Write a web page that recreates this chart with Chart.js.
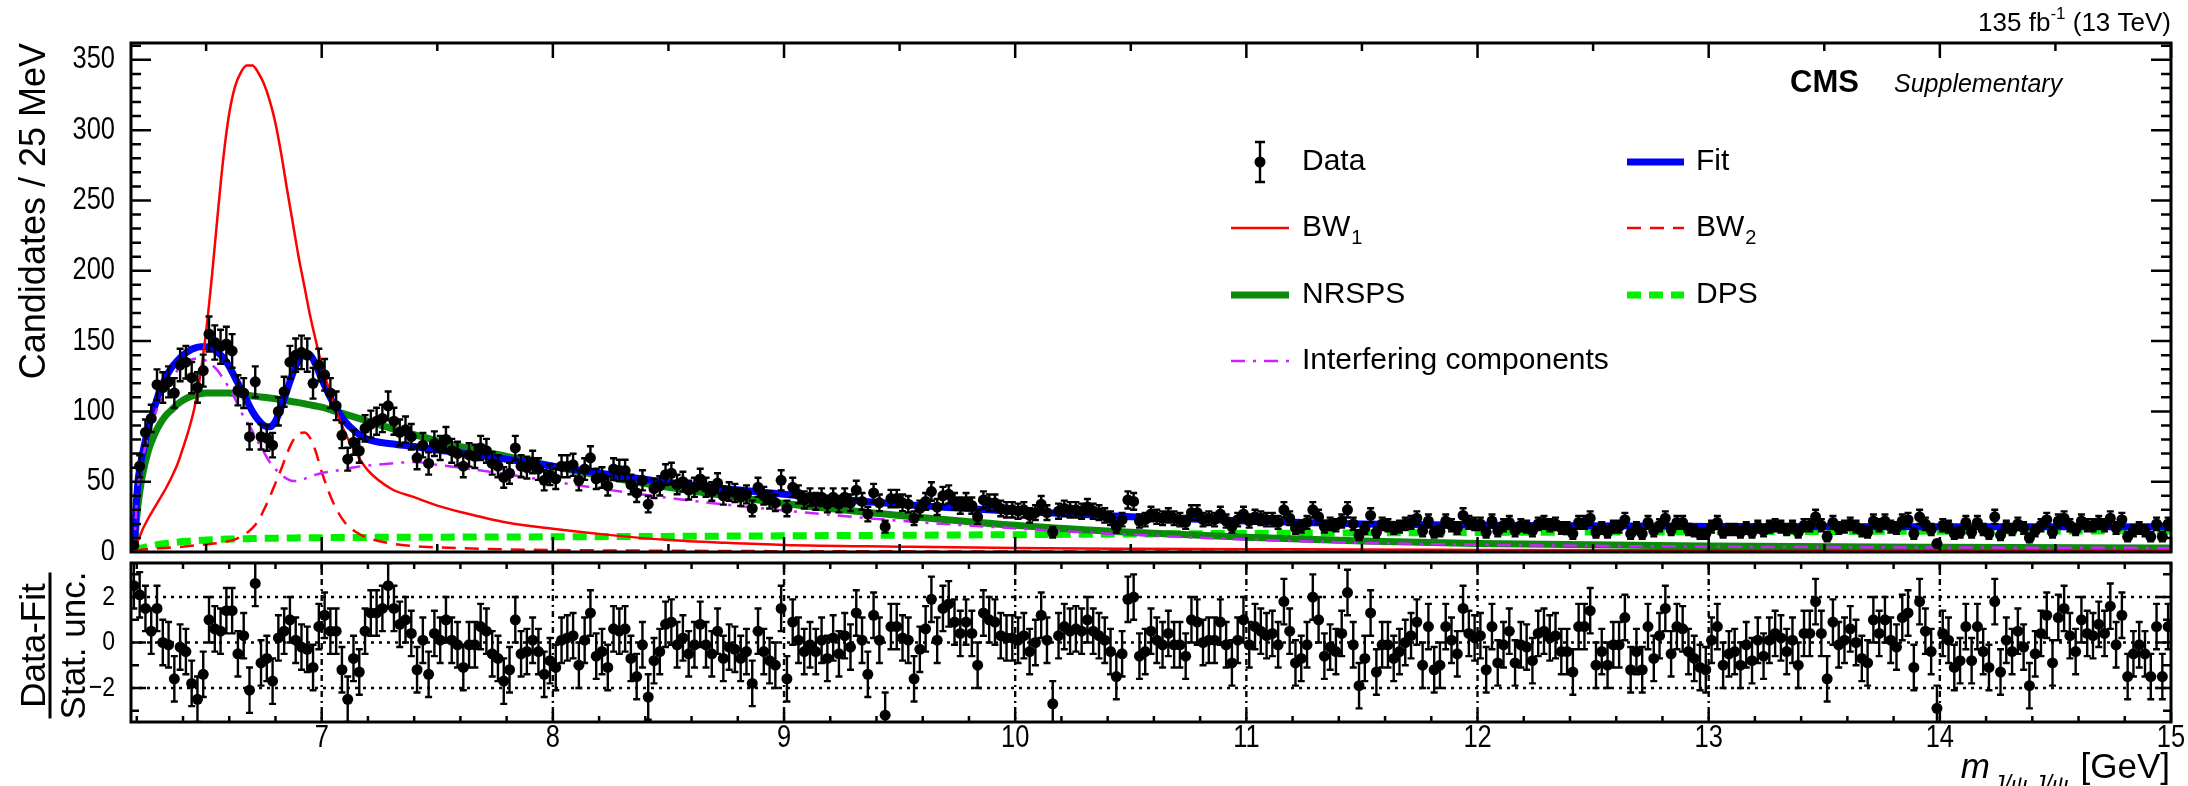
<!DOCTYPE html>
<html>
<head>
<meta charset="utf-8">
<script src="https://cdn.jsdelivr.net/npm/chart.js@4.4.1/dist/chart.umd.min.js"></script>
<style>
  html, body { margin: 0; padding: 0; background: #fff; }
  #wrap { position: relative; width: 2188px; height: 786px; overflow: hidden; }
  canvas { position: absolute; left: 0; }
  #mainPlot { top: 0; }
  #pullPlot { top: 555px; }
</style>
</head>
<body>
<div id="wrap">
  <canvas id="mainPlot" width="2188" height="560"></canvas>
  <canvas id="pullPlot" width="2188" height="231"></canvas>
</div>
<script>
// 25 MeV bins, first bin starts at 6.175 GeV
var binStart = 6.175;
var binWidth = 0.025;

// candidates per bin
var counts = [
  5, 61, 85, 95, 119, 117, 121, 113, 133, 135,
  124, 117, 129, 155, 149, 146, 148, 143, 115, 113,
  82, 121, 82, 81, 76, 100, 114, 135, 140, 142,
  140, 120, 133, 126, 113, 104, 83, 66, 78, 72,
  88, 91, 93, 95, 104, 93, 85, 87, 82, 67,
  76, 63, 77, 74, 80, 72, 70, 61, 69, 68,
  74, 72, 63, 61, 53, 56, 74, 61, 60, 64,
  59, 51, 55, 52, 61, 61, 62, 51, 59, 67,
  52, 53, 47, 59, 58, 58, 48, 42, 51, 34,
  45, 47, 55, 56, 48, 50, 44, 46, 52, 46,
  43, 49, 40, 43, 42, 39, 41, 31, 46, 40,
  37, 35, 51, 31, 46, 41, 37, 39, 36, 39,
  34, 39, 34, 39, 35, 44, 36, 27, 42, 35,
  18, 38, 38, 35, 34, 24, 31, 36, 43, 32,
  40, 41, 36, 33, 36, 33, 25, 37, 35, 35,
  31, 30, 30, 29, 30, 26, 28, 34, 28, 14,
  29, 31, 30, 30, 29, 32, 29, 28, 26, 24,
  18, 23, 37, 36, 22, 23, 27, 25, 24, 26,
  24, 23, 21, 28, 28, 23, 24, 23, 27, 22,
  18, 23, 27, 22, 25, 24, 23, 23, 21, 30,
  24, 17, 18, 21, 30, 25, 18, 20, 19, 22,
  30, 20, 12, 17, 26, 14, 20, 19, 17, 18,
  20, 21, 24, 15, 22, 14, 15, 22, 19, 17,
  26, 21, 20, 20, 14, 22, 15, 19, 21, 15,
  19, 18, 15, 20, 21, 19, 20, 17, 17, 13,
  21, 21, 24, 14, 17, 14, 18, 18, 23, 13,
  17, 13, 21, 15, 19, 24, 16, 21, 21, 16,
  15, 13, 13, 18, 21, 14, 16, 16, 14, 17,
  14, 18, 15, 18, 19, 18, 16, 18, 14, 19,
  19, 25, 19, 11, 21, 17, 18, 20, 18, 15,
  14, 22, 19, 22, 18, 17, 22, 23, 13, 25,
  20, 16, 6, 19, 18, 13, 14, 21, 14, 21,
  16, 13, 25, 12, 18, 16, 20, 17, 10, 15,
  19, 23, 14, 22, 24, 19, 16, 22, 19, 19,
  21, 19, 24, 17, 23, 11, 15, 17, 15, 11,
  20, 11, 20
];

// (data - fit) / stat. unc. per bin
var pulls = [
  2.5, 2.1, 1.5, 0.5, 1.5, 0, -0.1, -1.6, -0.2, -0.4,
  -1.8, -2.5, -1.4, 1.0, 0.6, 0.5, 1.4, 1.4, -0.5, 0.3,
  -2.1, 2.6, -0.9, -0.7, -1.7, 0.2, 0.5, 1.0, 0.1, -0.2,
  -0.3, -1.1, 0.7, 1.2, 0.5, 0.5, -1.2, -2.5, -0.7, -1.3,
  0.5, 1.3, 1.3, 1.5, 2.5, 1.5, 0.8, 1.0, 0.4, -1.2,
  0.1, -1.4, 0.4, 0.1, 1.0, 0.1, -0.1, -1.1, -0.1, -0.1,
  0.7, 0.5, -0.5, -0.7, -1.7, -1.2, 1.0, -0.5, -0.4, 0.1,
  -0.4, -1.4, -0.8, -1.1, 0.1, 0.2, 0.3, -1.0, 0.1, 1.3,
  -0.6, -0.4, -1.1, 0.6, 0.5, 0.6, -0.7, -1.5, -0.1, -2.4,
  -0.8, -0.4, 0.8, 0.9, -0.1, 0.2, -0.5, -0.1, 0.8, -0.1,
  -0.5, 0.5, -0.7, -0.2, -0.3, -0.7, -0.4, -1.8, 0.5, -0.4,
  -0.8, -1.0, 1.5, -1.6, 0.9, 0.1, -0.4, -0.1, -0.4, 0.1,
  -0.7, 0.2, -0.5, 0.3, -0.2, 1.3, 0.1, -1.4, 1.2, 0.1,
  -3.2, 0.7, 0.7, 0.2, 0.1, -1.6, -0.3, 0.6, 1.9, 0.1,
  1.5, 1.7, 0.9, 0.4, 0.9, 0.4, -1.0, 1.3, 1.0, 0.9,
  0.3, 0.2, 0.2, 0.1, 0.3, -0.4, 0.0, 1.2, 0.1, -2.7,
  0.3, 0.7, 0.5, 0.6, 0.5, 1.0, 0.5, 0.3, 0.1, -0.4,
  -1.5, -0.5, 1.9, 2.0, -0.6, -0.4, 0.5, 0.1, -0.1, 0.4,
  -0.1, -0.1, -0.6, 1.0, 0.9, 0.0, 0.1, 0.1, 0.9, -0.1,
  -0.9, 0.1, 1.0, -0.1, 0.7, 0.5, 0.3, 0.4, -0.1, 1.8,
  0.5, -0.9, -0.7, -0.1, 2.0, 1.0, -0.6, -0.2, -0.4, 0.4,
  2.2, -0.1, -1.9, -0.7, 1.3, -1.3, -0.1, -0.1, -0.7, -0.4,
  0.0, 0.3, 0.9, -1.0, 0.7, -1.2, -1.0, 0.7, 0.1, -0.5,
  1.5, 0.4, 0.2, 0.3, -1.2, 0.7, -0.9, -0.1, 0.5, -0.9,
  -0.1, -0.2, -0.8, 0.4, 0.5, 0.2, 0.3, -0.4, -0.4, -1.3,
  0.7, 0.7, 1.4, -1.0, -0.4, -1.0, -0.1, -0.1, 1.1, -1.2,
  -0.4, -1.2, 0.7, -0.7, 0.3, 1.5, -0.5, 0.7, 0.6, -0.4,
  -0.7, -1.1, -1.2, 0.1, 0.7, -1.0, -0.5, -0.4, -1.0, -0.1,
  -0.8, 0.1, -0.6, 0.1, 0.4, 0.2, -0.4, 0.1, -1.0, 0.4,
  0.4, 1.8, 0.4, -1.6, 0.9, -0.1, 0.1, 0.6, 0.0, -0.7,
  -0.9, 1.0, 0.4, 1.0, 0.1, -0.2, 1.1, 1.3, -1.1, 1.8,
  0.5, -0.4, -2.9, 0.4, 0.1, -1.1, -0.8, 0.7, -0.8, 0.7,
  -0.4, -1.1, 1.8, -1.3, 0.1, -0.4, 0.5, -0.2, -1.9, -0.5,
  0.4, 1.2, -0.9, 1.1, 1.5, 0.3, -0.4, 1.0, 0.4, 0.3,
  0.8, 0.4, 1.6, -0.1, 1.2, -1.5, -0.5, -0.1, -0.5, -1.5,
  0.7, -1.5, 0.7
];

// masses (GeV) where the fit curves were read
var curveMass = [
  6.19, 6.195, 6.205, 6.215, 6.225,
  6.25, 6.275, 6.3, 6.325, 6.35, 6.375, 6.4, 6.425, 6.45, 6.475,
  6.5, 6.525, 6.55, 6.575, 6.6, 6.625, 6.65, 6.675, 6.7, 6.725,
  6.75, 6.775, 6.8, 6.825, 6.85, 6.875, 6.9, 6.925, 6.95, 6.975,
  7.0, 7.05, 7.1, 7.15, 7.2,
  7.3, 7.4, 7.5, 7.6, 7.8, 8.0,
  8.25, 8.5, 8.75, 9.0,
  9.5, 10.0, 10.5, 11.0, 11.5, 12.0,
  13.0, 14.0, 15.0
];
var fitCurve = [
  0, 25, 50, 61, 70,
  88, 102, 115, 124, 131, 136, 140, 143, 145, 146,
  146, 145, 142, 138, 132, 124, 116, 108, 100, 94,
  90, 89, 93, 103, 115, 127, 136, 141, 140, 133,
  123, 106, 93, 85, 80,
  77, 75, 72.5, 70.5, 66, 61,
  55, 49.5, 45, 41,
  34, 29, 25, 22, 20, 19,
  18.2, 18, 18
];
var bw1Curve = [
  0, 3, 8, 12, 16,
  24, 31, 38, 45, 53, 62, 74, 87, 103, 126,
  157, 196, 240, 281, 312, 331, 341, 346, 346, 341,
  333, 321, 305, 283, 258, 234, 210, 189, 168, 150,
  133, 107, 85, 70, 58,
  45, 39, 33, 28.5, 21, 16.5,
  12, 8.5, 6.5, 5,
  3.8, 2.8, 2.3, 2, 1.7, 1.5,
  1.2, 1.0, 0.8
];
var bw2Curve = [
  0, 0.5, 1, 1.4, 1.7,
  2, 2.3, 2.6, 2.9, 3.2, 3.5, 3.8, 4.2, 4.6, 5,
  5.4, 5.8, 6.3, 6.9, 7.8, 9, 11, 13.5, 17, 22,
  30, 39, 49, 59, 70, 79, 84, 85, 81, 71,
  57, 35, 21, 14, 10,
  6, 4.2, 3.3, 2.7, 1.9, 1.4,
  1.1, 0.9, 0.7, 0.6,
  0.45, 0.35, 0.3, 0.25, 0.2, 0.2,
  0.15, 0.1, 0.1
];
var nrspsCurve = [
  0, 15, 33, 45, 55,
  72, 83, 91, 97, 101, 105, 108, 110, 111.5, 112.5,
  113, 113, 113, 113, 113, 112.5, 112, 111.5, 111, 110.5,
  110, 109.5, 109, 108.3, 107.6, 106.9, 106.2, 105.4, 104.6, 103.8,
  103, 100.5, 98, 95.5, 93,
  88, 83.5, 79, 75, 68, 61,
  53, 46, 40, 34.5,
  26, 19, 14, 10.5, 7.8, 6,
  4.2, 3.3, 2.8
];
var dpsCurve = [
  0, 0.8, 1.6, 2.3, 3,
  4, 4.8, 5.5, 6, 6.5, 7, 7.4, 7.7, 8, 8.3,
  8.5, 8.7, 8.9, 9.1, 9.2, 9.3, 9.4, 9.5, 9.6, 9.7,
  9.75, 9.8, 9.85, 9.9, 9.95, 10, 10.05, 10.1, 10.15, 10.2,
  10.2, 10.25, 10.3, 10.35, 10.4,
  10.45, 10.5, 10.55, 10.6, 10.7, 10.8,
  10.95, 11.1, 11.3, 11.5,
  11.9, 12.3, 12.8, 13.2, 13.6, 13.9,
  14.4, 14.8, 15.1
];
var interfCurve = [
  0, 22, 45, 57, 66,
  83, 96, 107, 116, 123, 129, 133, 136, 137.5, 137.5,
  136, 133, 129, 123, 116.5, 109, 100, 93, 86, 78,
  71, 64, 59, 55, 52, 50.5, 50.5, 52, 53.5, 55,
  56, 57.5, 59, 60.5, 61.5,
  63, 64, 62, 60, 55.3, 50.2,
  44, 38.5, 33.7, 29.5,
  22.2, 16.8, 12.3, 8.9, 6.5, 5.2,
  3.8, 3.2, 2.9
];

var yTicks = [0, 50, 100, 150, 200, 250, 300, 350];
var xTicks = [7, 8, 9, 10, 11, 12, 13, 14, 15];
var pullTicks = [-2, 0, 2];

var FONT = '"Liberation Sans", Arial, Helvetica, sans-serif';
var BLUE = '#0000ff', RED = '#ff0000', DKGREEN = '#0b8a0b', LTGREEN = '#00f000', VIOLET = '#cc22ff';

Chart.defaults.font.family = FONT;
Chart.defaults.animation = false;

function binCenter(i) { return binStart + binWidth * (i + 0.5); }
function asCurve(values) {
  return curveMass.map(function (m, i) { return { x: m, y: values[i] }; });
}
function curveSet(values, color, width, dash, order) {
  return {
    type: 'line', data: asCurve(values), borderColor: color, borderWidth: width,
    borderDash: dash, pointRadius: 0, fill: false, cubicInterpolationMode: 'monotone', order: order
  };
}

// tick numbers look narrow in the original, so squeeze them a little
function narrowText(ctx, text, x, y, size, align) {
  ctx.save();
  ctx.translate(x, y);
  ctx.scale(0.82, 1);
  ctx.font = size + 'px ' + FONT;
  ctx.textAlign = align;
  ctx.textBaseline = 'middle';
  ctx.fillText(text, 0, 0);
  ctx.restore();
}

function makeErrorBars(id, errFn) {
  return {
    id: id,
    afterDatasetsDraw: function (chart) {
      var ctx = chart.ctx, a = chart.chartArea, ys = chart.scales.y;
      var ds = chart.data.datasets[0], meta = chart.getDatasetMeta(0);
      ctx.save();
      ctx.beginPath();
      ctx.rect(a.left, a.top, a.right - a.left, a.bottom - a.top);
      ctx.clip();
      ctx.strokeStyle = '#000';
      ctx.lineWidth = 2.4;
      ctx.beginPath();
      meta.data.forEach(function (pt, i) {
        var v = ds.data[i].y, e = errFn(v);
        var hi = ys.getPixelForValue(v + e), lo = ys.getPixelForValue(v - e);
        ctx.moveTo(pt.x, hi); ctx.lineTo(pt.x, lo);
        ctx.moveTo(pt.x - 3.5, hi); ctx.lineTo(pt.x + 3.5, hi);
        ctx.moveTo(pt.x - 3.5, lo); ctx.lineTo(pt.x + 3.5, lo);
      });
      ctx.stroke();
      ctx.restore();
    }
  };
}

function legendLine(ctx, x1, x2, y, color, width, dash) {
  ctx.save();
  ctx.strokeStyle = color; ctx.lineWidth = width; ctx.setLineDash(dash || []);
  ctx.beginPath(); ctx.moveTo(x1, y); ctx.lineTo(x2, y); ctx.stroke();
  ctx.restore();
}
function textWithSub(ctx, x, y, main, sub) {
  ctx.font = '30px ' + FONT;
  ctx.fillText(main, x, y);
  var w = ctx.measureText(main).width;
  ctx.font = '20px ' + FONT;
  ctx.fillText(sub, x + w + 1, y + 10);
}

var mainDecor = {
  id: 'mainDecor',
  afterDraw: function (chart) {
    var ctx = chart.ctx, a = chart.chartArea, xs = chart.scales.x, ys = chart.scales.y;
    ctx.save();
    ctx.strokeStyle = '#000'; ctx.fillStyle = '#000';

    // inner ticks
    ctx.lineWidth = 2.5;
    ctx.beginPath();
    for (var v = 10; v < ys.max; v += 10) {
      var py = ys.getPixelForValue(v), len = v % 50 === 0 ? 20 : 10;
      ctx.moveTo(a.left, py); ctx.lineTo(a.left + len, py);
      ctx.moveTo(a.right, py); ctx.lineTo(a.right - len, py);
    }
    for (var k = 13; k <= 30; k++) {
      var px = xs.getPixelForValue(k / 2), l2 = k % 2 === 0 ? 15 : 8;
      ctx.moveTo(px, a.bottom); ctx.lineTo(px, a.bottom - l2);
      ctx.moveTo(px, a.top); ctx.lineTo(px, a.top + l2);
    }
    ctx.stroke();
    ctx.lineWidth = 3;
    ctx.strokeRect(a.left, a.top, a.right - a.left, a.bottom - a.top);

    // y tick labels
    yTicks.forEach(function (t) { narrowText(ctx, String(t), a.left - 16, ys.getPixelForValue(t), 31, 'right'); });

    // y title, flush with the top of the frame
    ctx.save();
    ctx.translate(45, a.top);
    ctx.rotate(-Math.PI / 2);
    ctx.font = '36px ' + FONT;
    ctx.textAlign = 'right'; ctx.textBaseline = 'alphabetic';
    ctx.fillText('Candidates / 25 MeV', 0, 0);
    ctx.restore();

    // luminosity label
    ctx.textBaseline = 'alphabetic'; ctx.textAlign = 'left';
    ctx.font = '26px ' + FONT;
    var p1 = '135 fb', p3 = ' (13 TeV)';
    var w1 = ctx.measureText(p1).width, w3 = ctx.measureText(p3).width;
    ctx.font = '17px ' + FONT;
    var w2 = ctx.measureText('-1').width;
    var x0 = a.right - w1 - w2 - w3;
    ctx.font = '26px ' + FONT;
    ctx.fillText(p1, x0, 31);
    ctx.fillText(p3, x0 + w1 + w2, 31);
    ctx.font = '17px ' + FONT;
    ctx.fillText('-1', x0 + w1, 19);

    // CMS label
    ctx.font = 'bold 31px ' + FONT;
    ctx.fillText('CMS', 1790, 92);
    ctx.font = 'italic 25px ' + FONT;
    ctx.fillText('Supplementary', 1894, 92);

    // legend
    ctx.textBaseline = 'middle';
    var r1 = 162, r2 = 228, r3 = 295, r4 = 361;
    var c1a = 1231, c1b = 1289, c1t = 1302, c2a = 1627, c2b = 1684, c2t = 1696;
    ctx.lineWidth = 2.4;
    ctx.beginPath();
    ctx.moveTo(1260, r1 - 20); ctx.lineTo(1260, r1 + 20);
    ctx.moveTo(1255, r1 - 20); ctx.lineTo(1265, r1 - 20);
    ctx.moveTo(1255, r1 + 20); ctx.lineTo(1265, r1 + 20);
    ctx.stroke();
    ctx.beginPath(); ctx.arc(1260, r1, 5.5, 0, Math.PI * 2); ctx.fill();
    legendLine(ctx, c2a, c2b, r1, BLUE, 7);
    legendLine(ctx, c1a, c1b, r2, RED, 2.5);
    legendLine(ctx, c2a, c2b, r2, RED, 2.5, [14, 9]);
    legendLine(ctx, c1a, c1b, r3, DKGREEN, 7);
    legendLine(ctx, c2a, c2b, r3, LTGREEN, 7, [14, 8]);
    legendLine(ctx, c1a, c1b, r4, VIOLET, 2.5, [14, 8, 3, 8]);
    ctx.font = '30px ' + FONT;
    ctx.fillText('Data', c1t, r1);
    ctx.fillText('Fit', c2t, r1);
    textWithSub(ctx, c1t, r2, 'BW', '1');
    textWithSub(ctx, c2t, r2, 'BW', '2');
    ctx.font = '30px ' + FONT;
    ctx.fillText('NRSPS', c1t, r3);
    ctx.fillText('DPS', c2t, r3);
    ctx.fillText('Interfering components', c1t, r4);
    ctx.restore();
  }
};

var pullDecor = {
  id: 'pullDecor',
  beforeDatasetsDraw: function (chart) {
    var ctx = chart.ctx, a = chart.chartArea, xs = chart.scales.x, ys = chart.scales.y;
    ctx.save();
    ctx.strokeStyle = '#000'; ctx.lineWidth = 2.4;
    ctx.setLineDash([3, 5]);
    ctx.beginPath();
    pullTicks.forEach(function (t) {
      var py = ys.getPixelForValue(t);
      ctx.moveTo(a.left, py); ctx.lineTo(a.right, py);
    });
    ctx.stroke();
    ctx.setLineDash([6, 4, 2, 4]);
    ctx.beginPath();
    xTicks.forEach(function (t) {
      if (t >= xs.max) return;
      var px = xs.getPixelForValue(t);
      ctx.moveTo(px, a.top); ctx.lineTo(px, a.bottom);
    });
    ctx.stroke();
    ctx.restore();
  },
  afterDraw: function (chart) {
    var ctx = chart.ctx, a = chart.chartArea, xs = chart.scales.x, ys = chart.scales.y;
    ctx.save();
    ctx.strokeStyle = '#000'; ctx.fillStyle = '#000';
    ctx.lineWidth = 2.5;
    ctx.beginPath();
    for (var k = 31; k <= 75; k++) {
      var px = xs.getPixelForValue(k / 5), len = k % 5 === 0 ? 10 : 6;
      ctx.moveTo(px, a.bottom); ctx.lineTo(px, a.bottom - len);
      ctx.moveTo(px, a.top); ctx.lineTo(px, a.top + len);
    }
    for (var v = -3; v <= 3; v++) {
      var py = ys.getPixelForValue(v), l2 = v % 2 === 0 ? 15 : 8;
      ctx.moveTo(a.left, py); ctx.lineTo(a.left + l2, py);
      ctx.moveTo(a.right, py); ctx.lineTo(a.right - l2, py);
    }
    ctx.stroke();
    ctx.lineWidth = 3;
    ctx.strokeRect(a.left, a.top, a.right - a.left, a.bottom - a.top);

    // tick labels
    pullTicks.forEach(function (t) {
      narrowText(ctx, t < 0 ? '\u2212' + Math.abs(t) : String(t), a.left - 16, ys.getPixelForValue(t), 28, 'right');
    });
    xTicks.forEach(function (t) { narrowText(ctx, String(t), xs.getPixelForValue(t), a.bottom + 16, 31, 'center'); });

    // x title: m_{J/psi J/psi} [GeV]
    ctx.textBaseline = 'alphabetic'; ctx.textAlign = 'left';
    ctx.font = '35px ' + FONT;
    var unit = '[GeV]', wu = ctx.measureText(unit).width;
    var unitX = a.right - 1 - wu;
    ctx.fillText(unit, unitX, 223);
    ctx.font = 'italic 23px ' + FONT;
    var sub = 'J/\u03c8 J/\u03c8', ws = ctx.measureText(sub).width;
    var subX = unitX - 12 - ws;
    ctx.fillText(sub, subX, 237);
    ctx.font = 'italic 35px ' + FONT;
    var wm = ctx.measureText('m').width;
    ctx.fillText('m', subX - 3 - wm, 223);

    // y title as a fraction
    var yc = (a.top + a.bottom) / 2 + 3;
    ctx.fillRect(48.5, yc - 73, 3, 146);
    ctx.font = '35px ' + FONT;
    ctx.textAlign = 'center';
    ctx.save();
    ctx.translate(45, yc); ctx.rotate(-Math.PI / 2);
    ctx.fillText('Data-Fit', 0, 0);
    ctx.restore();
    ctx.save();
    ctx.translate(85, yc); ctx.rotate(-Math.PI / 2);
    ctx.fillText('Stat. unc.', 0, 0);
    ctx.restore();
    ctx.restore();
  }
};

var mainChart = new Chart(document.getElementById('mainPlot').getContext('2d'), {
  type: 'scatter',
  data: {
    datasets: [
      {
        type: 'scatter', label: 'Data',
        data: counts.map(function (c, i) { return { x: binCenter(i), y: c }; }),
        pointRadius: 5.5, pointBackgroundColor: '#000', pointBorderWidth: 0, order: 0
      },
      curveSet(interfCurve, VIOLET, 2.5, [14, 8, 3, 8], 1),
      curveSet(bw2Curve, RED, 2.5, [14, 9], 2),
      curveSet(bw1Curve, RED, 2.5, [], 3),
      curveSet(fitCurve, BLUE, 7, [], 4),
      curveSet(nrspsCurve, DKGREEN, 7, [], 5),
      curveSet(dpsCurve, LTGREEN, 7, [14, 8], 6)
    ]
  },
  options: {
    responsive: false, devicePixelRatio: 1,
    layout: { padding: { left: 131, right: 17, top: 43, bottom: 8 } },
    scales: {
      x: { type: 'linear', min: 6.175, max: 15, display: false },
      y: { type: 'linear', min: 0, max: 362, display: false }
    },
    plugins: { legend: { display: false }, tooltip: { enabled: false } }
  },
  plugins: [makeErrorBars('mainErrors', function (v) { return Math.sqrt(v); }), mainDecor]
});

var pullChart = new Chart(document.getElementById('pullPlot').getContext('2d'), {
  type: 'scatter',
  data: {
    datasets: [{
      label: 'Pull',
      data: pulls.map(function (p, i) { return { x: binCenter(i), y: p }; }),
      pointRadius: 5.5, pointBackgroundColor: '#000', pointBorderWidth: 0
    }]
  },
  options: {
    responsive: false, devicePixelRatio: 1,
    layout: { padding: { left: 131, right: 17, top: 8, bottom: 64 } },
    scales: {
      x: { type: 'linear', min: 6.175, max: 15, display: false },
      y: { type: 'linear', min: -3.5, max: 3.5, display: false }
    },
    plugins: { legend: { display: false }, tooltip: { enabled: false } }
  },
  plugins: [makeErrorBars('pullErrors', function () { return 1; }), pullDecor]
});
</script>
</body>
</html>
